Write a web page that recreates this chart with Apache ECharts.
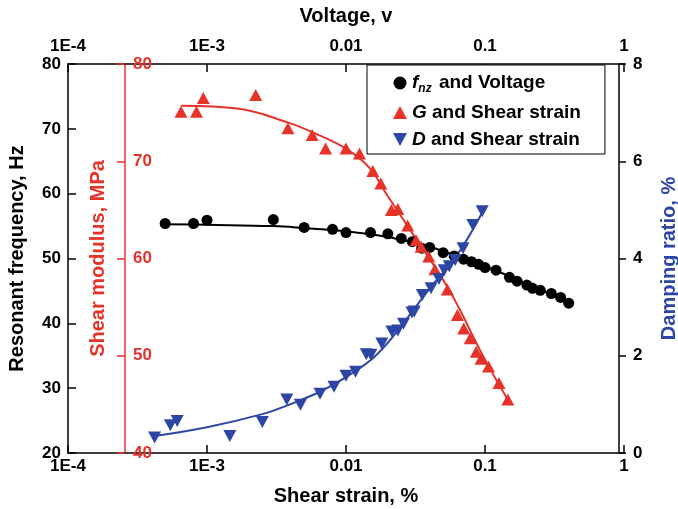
<!DOCTYPE html>
<html>
<head>
<meta charset="utf-8">
<script src="https://cdn.jsdelivr.net/npm/echarts@6/dist/echarts.min.js"></script>
<style>
  html, body { margin: 0; padding: 0; background: #fff; }
  #chart { width: 678px; height: 509px; }
</style>
</head>
<body>
<div id="chart"></div>
<script>
// Decade tick labels shared by both log axes
const tickLabels = ['1E-4', '1E-3', '0.01', '0.1', '1'];

// Resonant frequency (Hz) against voltage (V)
const voltage = [0.0005, 0.0008, 0.001, 0.003, 0.005, 0.008, 0.01, 0.015, 0.02, 0.025, 0.03, 0.035, 0.04, 0.05,
  0.06, 0.07, 0.08, 0.09, 0.1, 0.12, 0.15, 0.17, 0.2, 0.22, 0.25, 0.3, 0.35, 0.4];
const freq = [55.4, 55.4, 55.9, 56.0, 54.8, 54.5, 54.0, 54.0, 53.8, 53.1, 52.6, 51.6, 51.7, 50.9,
  50.4, 49.9, 49.5, 49.1, 48.6, 48.2, 47.1, 46.5, 45.9, 45.4, 45.1, 44.6, 44.0, 43.1];
const freqFitV = [0.0005, 0.001, 0.003, 0.005, 0.01, 0.02, 0.04, 0.07, 0.1, 0.2, 0.4];
const freqFit = [55.3, 55.2, 55.0, 54.7, 54.2, 53.3, 51.8, 50.0, 48.8, 46.1, 43.2];

// Shear modulus (MPa) against shear strain (%)
const gStrain = [0.00065, 0.00084, 0.00094, 0.00224, 0.00382, 0.00571, 0.00713, 0.01, 0.0125, 0.0156, 0.0178,
  0.0212, 0.0236, 0.0278, 0.0319, 0.0347, 0.0394, 0.0436, 0.0536, 0.0633, 0.0703, 0.0783, 0.0865, 0.0935,
  0.106, 0.126, 0.146];
const gModulus = [75.1, 75.1, 76.5, 76.8, 73.4, 72.7, 71.3, 71.3, 70.8, 69.0, 67.7,
  65.0, 65.1, 63.4, 61.9, 61.2, 60.2, 58.9, 56.8, 54.2, 52.8, 51.8, 50.4, 49.7,
  48.9, 47.2, 45.5];
const gFitStrain = [0.00065, 0.0017, 0.0038, 0.0057, 0.01, 0.0148, 0.02, 0.03, 0.055, 0.1, 0.15];
const gFit = [75.7, 75.4, 74.0, 73.0, 71.3, 69.3, 66.4, 62.6, 56.8, 49.6, 45.2];

// Damping ratio (%) against shear strain (%)
const dStrain = [0.00042, 0.000545, 0.00061, 0.00146, 0.0025, 0.00375, 0.0047, 0.0065, 0.0082, 0.01, 0.0117,
  0.014, 0.0151, 0.0181, 0.0214, 0.0236, 0.0259, 0.0298, 0.031, 0.0354, 0.0409, 0.0466, 0.0509, 0.0553,
  0.0611, 0.0695, 0.0818, 0.0955];
const dRatio = [0.32, 0.57, 0.66, 0.35, 0.64, 1.10, 0.99, 1.22, 1.36, 1.59, 1.67,
  2.03, 2.02, 2.25, 2.50, 2.52, 2.66, 2.89, 2.91, 3.25, 3.39, 3.58, 3.76, 3.84,
  3.97, 4.21, 4.69, 4.97];
const dFitStrain = [0.00042, 0.001, 0.0025, 0.0037, 0.0065, 0.01, 0.0156, 0.0217, 0.041, 0.062, 0.099];
const dFit = [0.35, 0.53, 0.80, 0.97, 1.26, 1.56, 1.95, 2.39, 3.42, 4.04, 5.03];

const RED = '#e5332a';
const BLUE = '#2d46a5';
const FONT = '"Liberation Sans", Arial, Helvetica, sans-serif';

const zip = (xs, ys) => xs.map((x, i) => [x, ys[i]]);
const decadeLabel = v => tickLabels[Math.round(Math.log10(v)) + 4];
const downTriangle = 'path://M0,0 L12,0 L6,11 Z';

const labelStyle = (color) => ({ color, fontFamily: FONT, fontWeight: 'bold', fontSize: 17 });
const nameStyle = (color) => ({ color, fontFamily: FONT, fontWeight: 'bold', fontSize: 20 });

const logAxis = (pos, name, gap, labelMargin) => ({
  type: 'log', logBase: 10, min: 0.0001, max: 1, position: pos,
  name, nameLocation: 'middle', nameGap: gap, nameTextStyle: nameStyle('#000'),
  axisLine: { show: true, onZero: false, lineStyle: { color: '#000', width: 1.5 } },
  axisTick: { show: true, inside: true, length: 8, lineStyle: { color: '#000', width: 1.5 } },
  minorTick: { show: false },
  axisLabel: { margin: labelMargin, formatter: decadeLabel, ...labelStyle('#000') },
  splitLine: { show: false }
});

const chart = echarts.init(document.getElementById('chart'), null, { renderer: 'canvas' });

chart.setOption({
  backgroundColor: '#fff',
  animation: false,
  grid: { left: 68, right: 54, top: 64, bottom: 56, containLabel: false, outerBoundsMode: 'none' },
  legend: {
    orient: 'vertical', left: 367, top: 65,
    backgroundColor: '#fff', borderColor: '#000', borderWidth: 1, borderRadius: 0,
    padding: [6, 24, 5, 26], itemGap: 8, itemWidth: 14, itemHeight: 13,
    data: ['fnz', 'G', 'D'],
    formatter: n => n === 'fnz' ? '{it|f}{sub|nz}{b| and Voltage}'
      : '{it|' + n + '}{b| and Shear strain}',
    textStyle: {
      fontFamily: FONT, fontWeight: 'bold', fontSize: 19, color: '#000',
      rich: {
        it: { fontFamily: FONT, fontWeight: 'bold', fontStyle: 'italic', fontSize: 19, color: '#000', lineHeight: 22 },
        sub: { fontFamily: FONT, fontWeight: 'bold', fontStyle: 'italic', fontSize: 12, color: '#000', lineHeight: 22, padding: [12, 2, 0, 0] },
        b: { fontFamily: FONT, fontWeight: 'bold', fontSize: 19, color: '#000', lineHeight: 22 }
      }
    }
  },
  xAxis: [
    logAxis('bottom', 'Shear strain, %', 33, 5),
    logAxis('top', 'Voltage, v', 38, 9)
  ],
  yAxis: [
    {
      type: 'value', min: 20, max: 80, interval: 10, position: 'left',
      name: 'Resonant frequency, Hz', nameLocation: 'middle', nameGap: 41, nameTextStyle: nameStyle('#000'),
      axisLine: { show: true, onZero: false, lineStyle: { color: '#000', width: 1.5 } },
      axisTick: { show: true, inside: true, length: 8, lineStyle: { color: '#000', width: 1.5 } },
      axisLabel: { margin: 7, ...labelStyle('#000') },
      splitLine: { show: false }
    },
    {
      type: 'value', min: 40, max: 80, interval: 10, position: 'left', offset: -57,
      name: 'Shear modulus, MPa', nameLocation: 'middle', nameGap: 17, nameTextStyle: nameStyle(RED),
      axisLine: { show: true, onZero: false, lineStyle: { color: RED, width: 1.5 } },
      axisTick: { show: true, inside: false, length: 8, lineStyle: { color: RED, width: 1.5 } },
      axisLabel: { inside: true, margin: 8, ...labelStyle(RED) },
      splitLine: { show: false }
    },
    {
      type: 'value', min: 0, max: 8, interval: 2, position: 'right', offset: -5,
      name: 'Damping ratio, %', nameLocation: 'middle', nameGap: 40, nameTextStyle: nameStyle(BLUE),
      axisLine: { show: true, onZero: false, lineStyle: { color: '#000', width: 1.5 } },
      axisTick: { show: true, inside: false, length: 7, lineStyle: { color: '#000', width: 1.5 } },
      axisLabel: { margin: 14, ...labelStyle('#000') },
      splitLine: { show: false }
    }
  ],
  series: [
    {
      name: 'fnz-fit', type: 'line', xAxisIndex: 1, yAxisIndex: 0, smooth: 0.4,
      data: zip(freqFitV, freqFit), showSymbol: false, silent: true,
      lineStyle: { color: '#000', width: 2 }, z: 2
    },
    {
      name: 'G-fit', type: 'line', xAxisIndex: 0, yAxisIndex: 1, smooth: 0.4,
      data: zip(gFitStrain, gFit), showSymbol: false, silent: true,
      lineStyle: { color: RED, width: 2 }, z: 2
    },
    {
      name: 'D-fit', type: 'line', xAxisIndex: 0, yAxisIndex: 2, smooth: 0.4,
      data: zip(dFitStrain, dFit), showSymbol: false, silent: true,
      lineStyle: { color: BLUE, width: 2 }, z: 2
    },
    {
      name: 'fnz', type: 'scatter', xAxisIndex: 1, yAxisIndex: 0,
      data: zip(voltage, freq), symbol: 'circle', symbolSize: 11,
      itemStyle: { color: '#000', opacity: 1 }, z: 3
    },
    {
      name: 'G', type: 'scatter', xAxisIndex: 0, yAxisIndex: 1,
      data: zip(gStrain, gModulus), symbol: 'triangle', symbolSize: [13, 12],
      itemStyle: { color: RED, opacity: 1 }, z: 4
    },
    {
      name: 'D', type: 'scatter', xAxisIndex: 0, yAxisIndex: 2,
      data: zip(dStrain, dRatio), symbol: downTriangle, symbolSize: [13, 12],
      itemStyle: { color: BLUE, opacity: 1 }, z: 4
    }
  ]
});
</script>
</body>
</html>
